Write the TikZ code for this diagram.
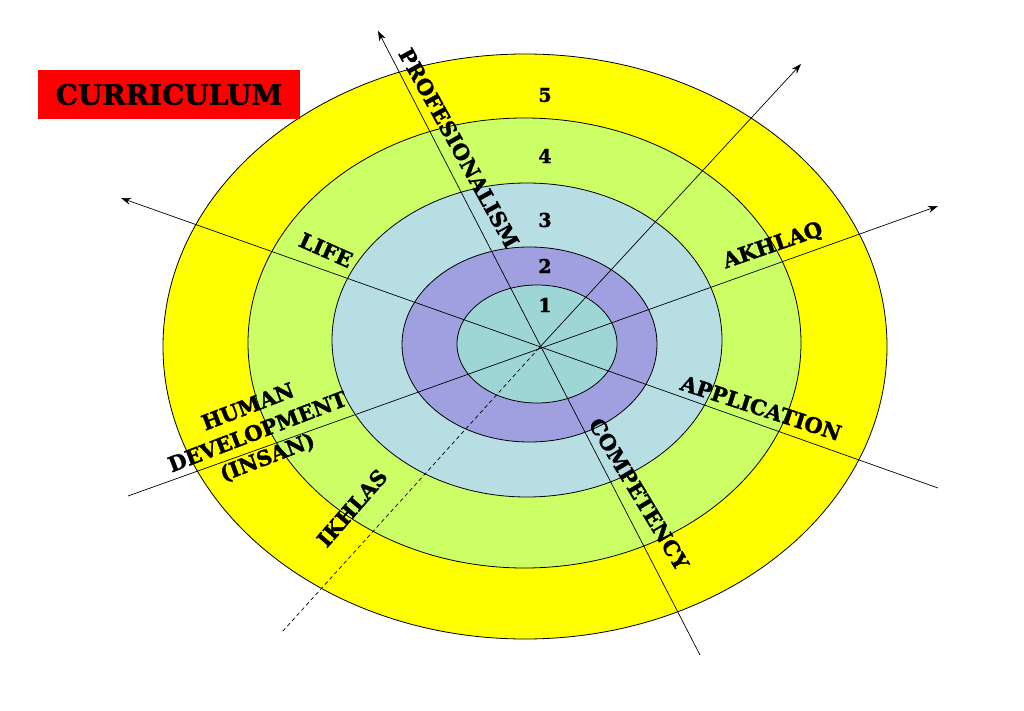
\documentclass[tikz,border=0pt]{standalone}
\usepackage{fontspec}
\setmainfont{DejaVu Serif}
\newfontfamily\heavy{DejaVu Serif Bold}[FakeBold=1.6]
\usepackage{xcolor}
\usetikzlibrary{arrows.meta, positioning}

\definecolor{ringFive}{RGB}{255,255,0}
\definecolor{ringFour}{RGB}{204,255,102}
\definecolor{ringThree}{RGB}{183,222,226}
\definecolor{ringTwo}{RGB}{160,160,224}
\definecolor{ringOne}{RGB}{158,213,213}
\definecolor{boxRed}{RGB}{255,0,0}

\begin{document}
\begin{tikzpicture}[x=1pt, y=-1pt,
		>={Stealth[length=10pt, width=7pt]},
		ring/.style={draw=black, line width=0.8pt},
		axis/.style={black, line width=0.7pt},
		lbl/.style={font=\fontsize{21}{27}\selectfont\heavy, inner sep=0pt},
		num/.style={font=\fontsize{19}{19}\selectfont\heavy, inner sep=0pt}]

		\useasboundingbox (0,0) rectangle (1024,711);

		% rings, outside in
		\draw[ring, fill=ringFive] (525,346.5) ellipse [x radius=362pt, y radius=292.5pt];
		\draw[ring, fill=ringFour] (524.5,343) ellipse [x radius=276.5pt, y radius=225pt];
		\draw[ring, fill=ringThree] (527,340) ellipse [x radius=195pt, y radius=157pt];
		\draw[ring, fill=ringTwo] (529.5,344.5) ellipse [x radius=127.5pt, y radius=97.5pt];
		\draw[ring, fill=ringOne] (537,344) ellipse [x radius=80pt, y radius=59pt];

		% axes
		\coordinate (c) at (539,348);
		\coordinate (profTip) at (378,31);
		\coordinate (compEnd) at (700,655);
		\coordinate (neTip) at (801,64);
		\coordinate (swEnd) at (282,632);
		\coordinate (akhTip) at (938,206);
		\coordinate (insEnd) at (128,496);
		\coordinate (lifeTip) at (121,198);
		\coordinate (appEnd) at (938,488);

		\begin{scope}[axis]
			\draw[->] (compEnd) -- (profTip);
			\draw[->] (c) -- (neTip);
			\draw[dash pattern=on 4pt off 3pt] (c) -- (swEnd);
			\draw[->] (insEnd) -- (akhTip);
			\draw[->] (appEnd) -- (lifeTip);
		\end{scope}

		% ring numbers
		\node[num] (n5) at (545,95) {5};
		\node[num] (n4) at (545,156) {4};
		\node[num] (n3) at (545,220) {3};
		\node[num] (n2) at (545,266) {2};
		\node[num] (n1) at (545,305) {1};

		% labels
		\node[lbl, rotate=-61] (prof) at (459,148) {PROFESIONALISM};
		\node[lbl, rotate=-24] (life) at (326,250) {LIFE};
		\node[lbl, rotate=19] (akhlaq) at (773,246) {AKHLAQ};
		\node[lbl, rotate=-18] (app) at (761,408) {APPLICATION};
		\node[lbl, rotate=-59] (comp) at (639,494) {COMPETENCY};
		\node[lbl, rotate=49] (ikhlas) at (352,508) {IKHLAS};
		\node[lbl, rotate=21, align=center] (insan) at (258,433) {HUMAN\\DEVELOPMENT\\(INSAN)};

		\node[fill=boxRed, minimum width=262, minimum height=49, inner sep=0pt,
			font=\fontsize{28}{28}\selectfont\heavy] (curr) at (169,94.5) {CURRICULUM};
	\end{tikzpicture}
\end{document}
